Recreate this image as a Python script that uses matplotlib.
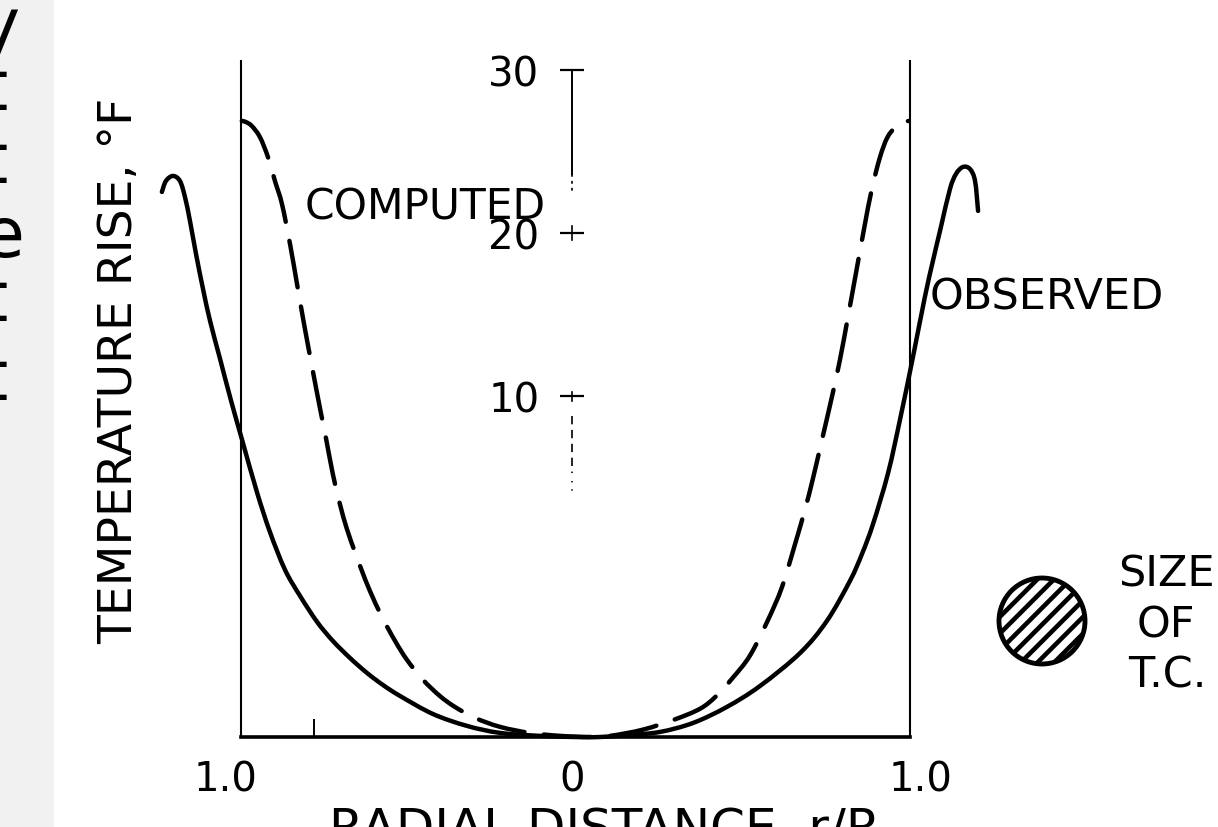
import matplotlib
matplotlib.use("Agg")
import matplotlib.pyplot as plt
from matplotlib.patches import Ellipse, Rectangle, PathPatch
from matplotlib.path import Path
from matplotlib.transforms import ScaledTranslation

plt.rcParams['font.family'] = ['DejaVu Sans']
plt.rcParams['hatch.linewidth'] = 3.3
plt.rcParams['lines.scale_dashes'] = False

# ---- data (x: r/R, left side negative; y: temperature rise in the scale bar's units)
obs_x = [-1.226, -1.214, -1.193, -1.172, -1.157, -1.142, -1.124, -1.103, -1.082, -1.052,
         -1.019, -0.987, -0.942, -0.903, -0.858, -0.813, -0.762, -0.715, -0.664, -0.613,
         -0.565, -0.514, -0.416, -0.314, -0.215, -0.096, 0.009, 0.084, 0.173, 0.263,
         0.362, 0.463, 0.562, 0.682, 0.762, 0.831, 0.867, 0.900, 0.945, 0.981, 1.020,
         1.055, 1.079, 1.103, 1.130, 1.148, 1.169, 1.190, 1.205, 1.214]
obs_y = [22.51, 23.18, 23.49, 23.18, 22.20, 20.73, 18.72, 16.57, 14.62, 12.29,
         9.72, 7.40, 4.16, 1.71, -0.60, -2.20, -3.79, -4.95, -5.99, -6.91,
         -7.65, -8.32, -9.42, -10.15, -10.58, -10.76, -10.83, -10.83, -10.70, -10.52,
         -9.97, -8.99, -7.71, -5.69, -3.73, -1.28, 0.37, 2.20, 5.32, 8.62, 12.48,
         16.09, 18.29, 20.37, 22.69, 23.61, 24.04, 23.91, 23.18, 21.35]

comp_x = [-0.987, -0.975, -0.957, -0.933, -0.909, -0.888, -0.867, -0.843, -0.822, -0.801,
          -0.777, -0.753, -0.735, -0.715, -0.694, -0.673, -0.649, -0.628, -0.604, -0.568,
          -0.529, -0.493, -0.445, -0.395, -0.350, -0.290, -0.215, -0.126, -0.036, 0.054,
          0.114, 0.212, 0.308, 0.383, 0.430, 0.481, 0.532, 0.586, 0.628, 0.667, 0.697,
          0.720, 0.750, 0.777, 0.801, 0.825, 0.849, 0.873, 0.897, 0.921, 0.942, 0.966,
          0.987, 1.007]
comp_y = [26.85, 26.79, 26.54, 25.87, 24.65, 23.18, 21.77, 19.33, 16.88, 14.43,
          11.80, 9.24, 7.40, 5.26, 3.43, 1.90, 0.49, -0.67, -1.90, -3.49,
          -4.95, -6.12, -7.34, -8.32, -8.99, -9.66, -10.21, -10.58, -10.76, -10.83,
          -10.76, -10.38, -9.75, -9.10, -8.35, -7.20, -5.85, -3.67, -1.65, 0.98, 3.12,
          4.95, 7.58, 9.97, 12.23, 14.86, 17.55, 20.24, 22.75, 24.65, 25.81, 26.48,
          26.79, 26.85]

scale_ticks = [10, 20, 30]
scale_labels = ['10', '20', '30']
x_ticks = [-0.985, 0.0, 1.005]
x_tick_labels = ['1.0', '0', '1.0']
x_minor_ticks = [-0.77]

W, H = 1218, 828
fig = plt.figure(figsize=(W / 100, H / 100), dpi=100)
fig.patch.set_facecolor('white')


def fx(px):
    return px / W


def fy(py):
    return 1 - py / H


def smooth_path(xs, ys):
    """Cubic (Catmull-Rom) path through the given points."""
    pts = list(zip(xs, ys))
    n = len(pts)
    verts = [pts[0]]
    codes = [Path.MOVETO]
    for i in range(n - 1):
        p0 = pts[i - 1] if i > 0 else pts[i]
        p1 = pts[i]
        p2 = pts[i + 1]
        p3 = pts[i + 2] if i + 2 < n else pts[i + 1]
        c1 = (p1[0] + (p2[0] - p0[0]) / 6, p1[1] + (p2[1] - p0[1]) / 6)
        c2 = (p2[0] - (p3[0] - p1[0]) / 6, p2[1] - (p3[1] - p1[1]) / 6)
        verts += [c1, c2, p2]
        codes += [Path.CURVE4] * 3
    return Path(verts, codes)


# grey strip with cut-off page text on the left
fig.add_artist(Rectangle((0, 0), fx(54), 1, transform=fig.transFigure,
                         facecolor='#f1f1f1', edgecolor='none', zorder=0))
strip_chars = ['y', 't', 't', 'e', 't', 't']
strip_rows = [48, 110, 183, 257, 321, 400]
strip_left = [-21, -20, -20, -19, -20, -20]
for ch, row, lft in zip(strip_chars, strip_rows, strip_left):
    fig.text(fx(lft), fy(row), ch, fontsize=50, ha='left', va='baseline', color='black')

# main axes (frame)
ax = fig.add_axes([fx(241), fy(738), fx(910) - fx(241), fy(62) - fy(738)])
xlim = (-0.9895, 1.0105)
ylim = (-10.83, 30.52)
ax.set_xlim(*xlim)
ax.set_ylim(*ylim)
ax.patch.set_visible(False)
ax.spines['top'].set_visible(False)
ax.spines['left'].set_linewidth(1.5)
ax.spines['right'].set_linewidth(1.5)
ax.spines['bottom'].set_linewidth(2.6)
ax.tick_params(axis='y', left=False, labelleft=False)
ax.set_xticks(x_ticks)
ax.set_xticklabels(x_tick_labels)
ax.set_xticks(x_minor_ticks, minor=True)
ax.tick_params(axis='x', which='major', length=0, pad=16, labelsize=29)
ax.tick_params(axis='x', which='minor', direction='in', length=13, width=1.4)
labs = ax.get_xticklabels()
labs[0].set_transform(labs[0].get_transform() + ScaledTranslation(-0.17, 0, fig.dpi_scale_trans))
labs[2].set_transform(labs[2].get_transform() + ScaledTranslation(0.12, 0, fig.dpi_scale_trans))

ax.add_patch(PathPatch(smooth_path(obs_x, obs_y), fill=False, edgecolor='black',
                       lw=3.2, clip_on=False, capstyle='round', joinstyle='round'))
ax.add_patch(PathPatch(smooth_path(comp_x, comp_y), fill=False, edgecolor='black',
                       lw=3.2, clip_on=False, linestyle=(0, (34, 14)), capstyle='round'))

# central scale bar
ax2 = fig.add_axes(ax.get_position())
ax2.set_xlim(*xlim)
ax2.set_ylim(*ylim)
ax2.patch.set_visible(False)
for s in ['top', 'right', 'bottom']:
    ax2.spines[s].set_visible(False)
ax2.spines['left'].set_position(('data', 0))
ax2.spines['left'].set_bounds(23.6, 30)
ax2.spines['left'].set_linewidth(1.4)
ax2.set_xticks([])
ax2.set_yticks(scale_ticks)
ax2.set_yticklabels(scale_labels)
ax2.tick_params(axis='y', direction='inout', length=17, width=1.6, pad=15, labelsize=29)
ax2.plot([0, 0], [23.6, 22.5], color='black', lw=1.2, ls=(0, (2, 3)))
ax2.plot([0, 0], [20.4, 19.6], color='black', lw=1.2)
ax2.plot([0, 0], [10.3, 9.7], color='black', lw=1.2)
ax2.plot([0, 0], [8.8, 5.3], color='black', lw=1.2, ls=(0, (6, 4)))
ax2.plot([0, 0], [4.8, 4.1], color='black', lw=1.2, ls=(0, (1, 5)))

# texts
fig.text(fx(305), fy(207), 'COMPUTED', fontsize=30.5, ha='left', va='center')
fig.text(fx(930), fy(298), 'OBSERVED', fontsize=31, ha='left', va='center')
fig.text(fx(1166), fy(575), 'SIZE', fontsize=31, ha='center', va='center')
fig.text(fx(1166), fy(625), 'OF', fontsize=31, ha='center', va='center')
fig.text(fx(1167), fy(676), 'T.C.', fontsize=31, ha='center', va='center')
fig.text(fx(120), fy(371), 'TEMPERATURE RISE, °F', fontsize=34, rotation=90,
         ha='center', va='center')
fig.text(fx(605), fy(806), 'RADIAL DISTANCE, r/R', fontsize=36, ha='center', va='top')

# thermocouple size symbol
fig.add_artist(Ellipse((fx(1042), fy(622)), 86 / W, 86 / H, transform=fig.transFigure,
                       facecolor='white', edgecolor='black', hatch='//', lw=3.5))

fig.savefig('out.png', dpi=100)
